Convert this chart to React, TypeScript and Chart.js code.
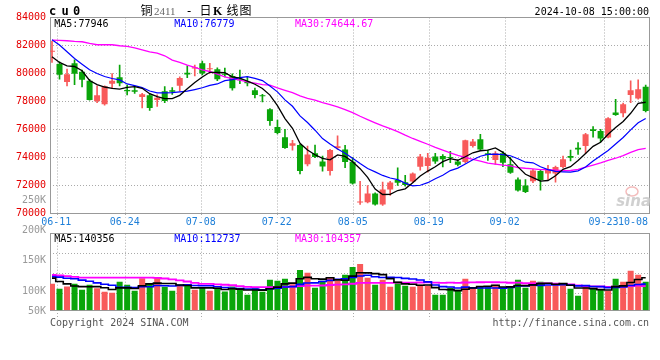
import React, { useEffect, useRef } from 'react';
import { Chart, registerables } from 'chart.js';

Chart.register(...registerables);

// ---------- data ----------
const days = [
  '06-07', '06-11', '06-12', '06-13', '06-14', '06-17', '06-18', '06-19', '06-20', '06-21',
  '06-24', '06-25', '06-26', '06-27', '06-28', '07-01', '07-02', '07-03', '07-04', '07-05',
  '07-08', '07-09', '07-10', '07-11', '07-12', '07-15', '07-16', '07-17', '07-18', '07-19',
  '07-22', '07-23', '07-24', '07-25', '07-26', '07-29', '07-30', '07-31', '08-01', '08-02',
  '08-05', '08-06', '08-07', '08-08', '08-09', '08-12', '08-13', '08-14', '08-15', '08-16',
  '08-19', '08-20', '08-21', '08-22', '08-23', '08-26', '08-27', '08-28', '08-29', '08-30',
  '09-02', '09-03', '09-04', '09-05', '09-06', '09-09', '09-10', '09-11', '09-12', '09-13',
  '09-18', '09-19', '09-20', '09-23', '09-24', '09-25', '09-26', '09-27', '09-30', '10-08',
];
const dateTicks = ['06-11', '06-24', '07-08', '07-22', '08-05', '08-19', '09-02', '09-23', '10-08'];
const priceTickStep = 2000;
const priceMin = 70000;
const priceMax = 84000;
const volTickLabels = ['250K', '200K', '150K', '100K', '50K'];

const open = [
  81550, 80670, 79400, 80740, 80120, 79480, 78020, 77800, 79260, 79740,
  78830, 78810, 78330, 78450, 78110, 78740, 78810, 79120, 80050, 80360,
  80740, 80310, 80310, 80000, 79830, 79590, 79430, 78810, 78450, 77450,
  76180, 75440, 74840, 74890, 73510, 74300, 73720, 73030, 74680, 74580,
  73700, 70780, 70810, 71430, 70640, 71720, 72390, 72240, 72290, 73340,
  73390, 74080, 74100, 74030, 73720, 73680, 74820, 75300, 74300, 73820,
  74300, 73510, 72430, 72000, 72310, 73030, 72860, 72860, 73320, 74100,
  74700, 74820, 76010, 75890, 75420, 77210, 77160, 78470, 78210, 79050,
];
const close = [
  81600, 79910, 79950, 79980, 79550, 78110, 78450, 79090, 79480, 79310,
  78740, 78690, 78520, 77540, 78260, 78040, 78690, 79670, 79930, 80450,
  80000, 80380, 79590, 79910, 78950, 79520, 79310, 78470, 78380, 76610,
  75750, 74680, 75010, 73030, 74220, 74030, 73360, 74530, 74800, 73680,
  72150, 70840, 71430, 70640, 71720, 72220, 72200, 72030, 72860, 74080,
  73990, 73720, 73870, 73960, 73480, 75230, 75150, 74580, 74180, 74300,
  73630, 72910, 71650, 71530, 73080, 72390, 73150, 73320, 73870, 73990,
  74580, 75660, 75890, 75350, 76800, 77040, 77800, 78810, 78880, 77330,
];
const high = [
  82300, 80840, 80310, 80980, 80240, 79590, 79120, 79120, 80000, 80600,
  79170, 79070, 78590, 78540, 78470, 79070, 79000, 79760, 80550, 80600,
  80880, 80720, 80410, 80380, 79980, 80240, 79760, 78950, 78520, 77490,
  76680, 76010, 75230, 74940, 74820, 74890, 74100, 74580, 75540, 74870,
  73990, 72290, 72000, 71480, 72240, 72290, 73270, 72720, 72910, 74220,
  74300, 74300, 74200, 74440, 73820, 75250, 75300, 75660, 74530, 74420,
  74420, 74010, 72550, 72430, 73150, 73150, 73440, 73390, 74100, 74530,
  75060, 75730, 76210, 76010, 76850, 78160, 77880, 79480, 79550, 79170,
];
const low = [
  80790, 79590, 79120, 79210, 79050, 78090, 77920, 77730, 78970, 79120,
  78470, 78570, 77540, 77370, 77640, 77920, 78500, 78760, 79710, 79830,
  79900, 80020, 79480, 79760, 78810, 79280, 79120, 78260, 77970, 76300,
  75680, 74650, 74530, 72820, 73390, 73990, 73030, 72740, 74580, 73270,
  72100, 70640, 70760, 70600, 70570, 71290, 72000, 71960, 72200, 73100,
  72960, 73580, 73320, 73630, 73390, 73600, 74730, 74510, 73790, 73510,
  73340, 72860, 71600, 71480, 72200, 71670, 72430, 72240, 73250, 73750,
  74220, 74300, 75460, 75110, 75400, 77000, 76900, 77920, 78160, 77260,
];
const ma5 = [
  81190, 80790, 80550, 80500, 80196, 79499, 79207, 79036, 78935, 78888,
  79013, 79061, 78947, 78560, 78350, 78210, 78210, 78439, 78917, 79356,
  79747, 80086, 80071, 80067, 79766, 79671, 79456, 79232, 78926, 78458,
  77704, 76777, 76085, 75016, 74539, 74195, 73932, 73837, 74190, 74080,
  73703, 73202, 72581, 71751, 71359, 71373, 71641, 71760, 72204, 72677,
  73030, 73336, 73703, 73923, 73804, 74052, 74338, 74481, 74524, 74687,
  74367, 73918, 73331, 72801, 72557, 72309, 72357, 72691, 73159, 73340,
  73780, 74281, 74796, 75092, 75655, 76147, 76577, 77159, 77866, 77946,
];
const ma10 = [
  82411, 82029, 81551, 81074, 80668, 80263, 80000, 79785, 79642, 79542,
  79256, 79134, 78991, 78748, 78619, 78612, 78636, 78693, 78738, 78853,
  78979, 79148, 79255, 79492, 79561, 79709, 79771, 79652, 79496, 79112,
  78687, 78117, 77658, 76971, 76498, 75949, 75355, 74961, 74603, 74310,
  73949, 73567, 73209, 72970, 72720, 72538, 72421, 72171, 71978, 72018,
  72202, 72488, 72732, 73064, 73240, 73541, 73837, 74092, 74224, 74245,
  74209, 74128, 73906, 73663, 73622, 73338, 73138, 73011, 72980, 72949,
  73044, 73319, 73744, 74126, 74498, 74963, 75429, 75978, 76479, 76779,
];
const ma30 = [
  82387, 82363, 82339, 82292, 82268, 82148, 82053, 82053, 82053, 81981,
  81933, 81838, 81695, 81552, 81456, 81265, 80955, 80788, 80597, 80430,
  80263, 80143, 79952, 79761, 79642, 79523, 79403, 79308, 79212, 79169,
  78974, 78800, 78635, 78403, 78226, 78090, 77921, 77769, 77613, 77425,
  77205, 76944, 76708, 76478, 76260, 76066, 75849, 75594, 75359, 75147,
  74946, 74724, 74533, 74335, 74153, 74010, 73871, 73741, 73601, 73524,
  73453, 73395, 73282, 73232, 73194, 73139, 73132, 73091, 73060, 73071,
  73152, 73312, 73461, 73617, 73787, 73947, 74134, 74360, 74561, 74644.67,
];
const volume = [
  113950, 92450, 102480, 113950, 88150, 109650, 95310, 79550, 75250, 122550,
  109650, 83850, 138310, 113950, 139750, 101050, 83850, 105350, 105350, 88150,
  99610, 83850, 96750, 80990, 102480, 91020, 66650, 95310, 79550, 131150,
  126850, 135450, 112520, 174150, 161250, 96750, 126850, 142620, 126850, 152650,
  187050, 199950, 139750, 109650, 131150, 101050, 122550, 105350, 101050, 109650,
  105350, 66650, 66650, 96750, 88150, 135450, 92450, 101050, 101050, 109650,
  96750, 96750, 131150, 96750, 126850, 122550, 105350, 109650, 109650, 92450,
  62350, 105350, 96750, 88150, 83850, 135450, 122550, 169850, 152650, 122550,
];
const volMa5 = [
  138500, 124000, 114000, 105000, 102196, 101336, 101908, 97322, 89582, 96462,
  96462, 94170, 105922, 113662, 117102, 115382, 115382, 108790, 107070, 96750,
  96462, 96462, 94742, 89870, 92736, 91018, 87578, 87290, 87002, 92736,
  99902, 113662, 117104, 136024, 142044, 136024, 134304, 140324, 130864, 129144,
  147204, 161824, 161250, 157810, 153510, 136310, 120830, 113950, 112230, 107930,
  108790, 97610, 89870, 89010, 84710, 90730, 95890, 102770, 103630, 107930,
  100190, 101050, 107070, 106210, 109650, 114810, 116530, 112230, 114810, 107930,
  95890, 95890, 93310, 89010, 87290, 101910, 105350, 119970, 132870, 140356,
];
const volMa10 = [
  145000, 143000, 138000, 136000, 130000, 125000, 118000, 112000, 108000, 99329,
  98899, 98039, 101622, 101622, 106782, 105922, 104776, 107356, 110366, 106926,
  105922, 105922, 101766, 98470, 94743, 93740, 92020, 91016, 88436, 92736,
  95460, 100620, 102197, 111513, 117390, 117963, 123983, 128714, 133444, 135594,
  141614, 148064, 150787, 144337, 141327, 141757, 141327, 137600, 135020, 130720,
  122550, 109220, 101910, 100620, 96320, 99760, 96750, 96320, 96320, 96320,
  95460, 98470, 104920, 104920, 108790, 107500, 108790, 109650, 110510, 108790,
  105350, 106210, 102770, 101910, 97610, 98900, 100620, 106640, 110940, 112737,
];
const volMa30 = [
  152000, 150000, 147000, 144000, 141000, 141000, 141000, 141000, 141000, 141000,
  141000, 141000, 141000, 141000, 140000, 137000, 133000, 129000, 124000, 118000,
  114000, 114000, 112000, 110000, 108000, 104000, 101000, 100000, 99700, 99664,
  100094, 101527, 101862, 103868, 106305, 105875, 106926, 109029, 110749, 111752,
  114332, 118202, 118250, 118107, 117820, 117820, 119110, 119110, 118967, 119683,
  119875, 119301, 118298, 118823, 118346, 119827, 120687, 120878, 121595, 120878,
  119875, 118585, 119206, 116626, 115479, 116339, 115622, 114523, 113950, 111943,
  107787, 104633, 103200, 102483, 100907, 102053, 102053, 104203, 105923, 104357,
];

// ---------- style ----------
const RED = '#f85a5a';
const GREEN = '#0aa50a';
const MONO = '"DejaVu Sans Mono", monospace';
const GRID = '#aaaaaa';
const FRAME = '#999999';
const DATE_COLOR = '#1e7fd8';
const PRICE_LABEL = '#e60000';
const VOL_LABEL = '#999999';

const X_MIN = -0.266;
const X_MAX = 79.44;
const XD_MIN = 0.039;
const XD_MAX = 78.86;

const candleColors = close.map((c, i) => (c >= open[i] ? RED : GREEN));
const last = days.length - 1;

const dateTickBuilder = (s: any) => {
  s.ticks = dateTicks
    .map((d) => days.indexOf(d))
    .filter((v) => v >= s.min && v <= s.max)
    .map((v) => ({ value: v }));
};

const framePlugin = {
  id: 'frame',
  beforeDatasetsDraw(chart: any) {
    const { ctx, chartArea } = chart;
    const l = Math.floor(chartArea.left);
    const t = Math.floor(chartArea.top);
    const r = Math.floor(chartArea.right);
    const b = Math.floor(chartArea.bottom);
    ctx.save();
    ctx.strokeStyle = FRAME;
    ctx.lineWidth = 1;
    ctx.setLineDash([]);
    ctx.strokeRect(l + 0.5, t + 0.5, r - l, b - t);
    ctx.restore();
  },
};

const watermarkPlugin = {
  id: 'watermark',
  beforeDatasetsDraw(chart: any) {
    const { ctx, chartArea } = chart;
    ctx.save();
    ctx.strokeStyle = 'rgba(240,160,160,0.7)';
    ctx.lineWidth = 1.5;
    ctx.beginPath();
    ctx.ellipse(chartArea.right - 17, chartArea.bottom - 22, 6, 4.5, 0, 0, Math.PI * 2);
    ctx.stroke();
    ctx.font = `italic bold 15px "DejaVu Sans", sans-serif`;
    ctx.fillStyle = 'rgba(200,200,200,0.85)';
    ctx.textAlign = 'right';
    ctx.textBaseline = 'alphabetic';
    ctx.fillText('sina', chartArea.right + 2, chartArea.bottom - 8);
    ctx.restore();
  },
};

const priceTextPlugin = {
  id: 'priceText',
  afterDraw(chart: any) {
    const { ctx, chartArea } = chart;
    const xd = chart.scales.xd;
    ctx.save();
    ctx.textBaseline = 'alphabetic';
    // header
    ctx.fillStyle = '#000';
    ctx.textAlign = 'left';
    ctx.font = `bold 12px ${MONO}`;
    ctx.fillText('c', 49, 15);
    ctx.fillText('u', 61.5, 15);
    ctx.fillText('0', 73, 15);
    ctx.font = '12px "Noto Sans CJK SC", sans-serif';
    ctx.fillText('铜', 140.5, 15);
    ctx.font = '11px "Liberation Serif", serif';
    ctx.fillStyle = '#666';
    ctx.fillText('2411', 154, 15);
    ctx.fillStyle = '#000';
    ctx.font = `12px ${MONO}`;
    ctx.fillText('-', 185.5, 15);
    ctx.font = '12px "Noto Sans CJK SC", sans-serif';
    ctx.fillText('日', 199.5, 15);
    ctx.font = 'bold 12px "Liberation Serif", serif';
    ctx.fillText('K', 213, 15);
    ctx.font = '12px "Noto Sans CJK SC", sans-serif';
    ctx.fillText('线', 226.5, 15);
    ctx.fillText('图', 239.5, 15);
    ctx.font = `10px ${MONO}`;
    ctx.textAlign = 'right';
    ctx.fillText('2024-10-08 15:00:00', chartArea.right, 15);
    // MA legend
    ctx.textAlign = 'left';
    const ly = chartArea.top + 9;
    ctx.fillStyle = '#000';
    ctx.fillText(`MA5:${Math.round(ma5[last])}`, chartArea.left + 4.3, ly);
    ctx.fillStyle = '#0000ff';
    ctx.fillText(`MA10:${Math.round(ma10[last])}`, chartArea.left + 124.3, ly);
    ctx.fillStyle = '#ff00ff';
    ctx.fillText(`MA30:${ma30[last].toFixed(2)}`, chartArea.left + 245, ly);
    // date labels
    ctx.fillStyle = DATE_COLOR;
    dateTicks.forEach((d) => {
      const idx = days.indexOf(d);
      const cx = xd.getPixelForValue(idx) - 1;
      const w = ctx.measureText(d).width;
      let x0 = cx - w / 2;
      if (x0 + w > chartArea.right - 1) x0 = chartArea.right - 1 - w;
      ctx.fillText(d, x0, chartArea.bottom + 11.5);
    });
    ctx.restore();
  },
};

const volTextPlugin = {
  id: 'volText',
  afterDraw(chart: any) {
    const { ctx, chartArea } = chart;
    ctx.save();
    ctx.textBaseline = 'alphabetic';
    ctx.font = `10px ${MONO}`;
    // volume axis labels (as drawn by the original, offset from the frame top)
    const offs = [-30.4, -0.4, 29.6, 60.3, 80.6];
    ctx.fillStyle = VOL_LABEL;
    ctx.textAlign = 'right';
    volTickLabels.forEach((t, i) => ctx.fillText(t, chartArea.left - 4, chartArea.top + offs[i]));
    // legend
    ctx.textAlign = 'left';
    const ly = chartArea.top + 7.8;
    ctx.fillStyle = '#000';
    ctx.fillText(`MA5:${Math.round(volMa5[last])}`, chartArea.left + 4.3, ly);
    ctx.fillStyle = '#0000ff';
    ctx.fillText(`MA10:${Math.round(volMa10[last])}`, chartArea.left + 124.3, ly);
    ctx.fillStyle = '#ff00ff';
    ctx.fillText(`MA30:${Math.round(volMa30[last])}`, chartArea.left + 245, ly);
    // footer
    ctx.fillStyle = '#555';
    ctx.fillText('Copyright 2024 SINA.COM', chartArea.left, chartArea.bottom + 16);
    ctx.textAlign = 'right';
    ctx.fillText('http://finance.sina.com.cn', chartArea.right, chartArea.bottom + 16);
    ctx.restore();
  },
};

const lineDs = (label: string, values: number[], color: string, width: number, stepped: any = false) => ({
  type: 'line' as const,
  label,
  data: values.map((v, i) => ({ x: i, y: v })),
  borderColor: color,
  borderWidth: width,
  pointRadius: 0,
  tension: 0,
  stepped,
  order: 0,
  xAxisID: 'x',
  yAxisID: 'y',
});

export default function App() {
  const refA = useRef<HTMLCanvasElement>(null);
  const refB = useRef<HTMLCanvasElement>(null);

  useEffect(() => {
    const priceChart = new Chart(refA.current as HTMLCanvasElement, {
      type: 'line',
      data: {
        datasets: [
          lineDs('MA5', ma5, '#000000', 1.3),
          lineDs('MA10', ma10, '#0000ff', 1.2),
          lineDs('MA30', ma30, '#ff00ff', 1.3),
          {
            type: 'bar',
            label: 'wick',
            data: days.map((_, i) => ({ x: i, y: [low[i], high[i]] })),
            backgroundColor: candleColors,
            borderWidth: 0,
            grouped: false,
            barPercentage: 1,
            categoryPercentage: 1,
            maxBarThickness: 1,
            order: 2,
            xAxisID: 'x',
            yAxisID: 'y',
          } as any,
          {
            type: 'bar',
            label: 'body',
            data: days.map((_, i) => ({ x: i, y: [open[i], close[i]] })),
            backgroundColor: candleColors,
            borderWidth: 0,
            grouped: false,
            barPercentage: 0.8,
            categoryPercentage: 1,
            minBarLength: 1,
            order: 1,
            xAxisID: 'x',
            yAxisID: 'y',
          } as any,
        ],
      },
      options: {
        responsive: false,
        animation: false,
        devicePixelRatio: 1,
        events: [],
        layout: { padding: { top: 17.5, right: 11, left: 0, bottom: 0 } },
        plugins: { legend: { display: false }, tooltip: { enabled: false } },
        scales: {
          x: { type: 'linear', display: false, min: X_MIN, max: X_MAX, offset: false },
          xd: {
            type: 'linear',
            position: 'bottom',
            min: XD_MIN,
            max: XD_MAX,
            offset: false,
            afterBuildTicks: dateTickBuilder,
            afterFit: (s: any) => { s.height = 18.5; },
            ticks: { display: false },
            grid: { color: GRID, tickColor: GRID, tickLength: 4, tickBorderDash: [1, 2], offset: false, lineWidth: 1 },
            border: { display: false, dash: [1, 2] },
          },
          y: {
            type: 'linear',
            position: 'left',
            min: priceMin,
            max: priceMax,
            afterFit: (s: any) => { s.width = 50; },
            ticks: {
              stepSize: priceTickStep,
              color: PRICE_LABEL,
              padding: 4,
              font: { family: MONO, size: 10 },
              callback: (v: any) => String(v),
            },
            grid: { color: GRID, drawTicks: false, lineWidth: 1 },
            border: { display: false, dash: [1, 2] },
          },
        } as any,
      },
      plugins: [framePlugin, watermarkPlugin, priceTextPlugin],
    } as any);

    const volChart = new Chart(refB.current as HTMLCanvasElement, {
      type: 'line',
      data: {
        datasets: [
          lineDs('VMA5', volMa5, '#000000', 1.6, 'middle'),
          lineDs('VMA10', volMa10, '#0000ff', 1.6, 'middle'),
          lineDs('VMA30', volMa30, '#ff00ff', 1.8, 'middle'),
          {
            type: 'bar',
            label: 'volume',
            data: days.map((_, i) => ({ x: i, y: volume[i] })),
            backgroundColor: candleColors,
            borderWidth: 0,
            grouped: false,
            barPercentage: 0.8,
            categoryPercentage: 1,
            order: 1,
            xAxisID: 'x',
            yAxisID: 'y',
          } as any,
        ],
      },
      options: {
        responsive: false,
        animation: false,
        devicePixelRatio: 1,
        events: [],
        layout: { padding: { top: 43.7, right: 11, left: 50, bottom: 49.7 } },
        plugins: { legend: { display: false }, tooltip: { enabled: false } },
        scales: {
          x: { type: 'linear', display: false, min: X_MIN, max: X_MAX, offset: false },
          xd: {
            type: 'linear',
            position: 'bottom',
            min: XD_MIN,
            max: XD_MAX,
            offset: false,
            afterBuildTicks: dateTickBuilder,
            afterFit: (s: any) => { s.height = 0; },
            ticks: { display: false },
            grid: { color: GRID, tickColor: GRID, tickLength: 9, tickBorderDash: [1, 2], offset: false, lineWidth: 1 },
            border: { display: false, dash: [1, 2] },
          },
          y: { type: 'linear', display: false, min: 0, max: 330000 },
          yg: {
            type: 'linear',
            position: 'left',
            min: 0,
            max: 3.84,
            reverse: true,
            afterFit: (s: any) => { s.width = 0; },
            ticks: { display: false, stepSize: 1 },
            grid: { color: GRID, drawTicks: false, lineWidth: 1 },
            border: { display: false, dash: [1, 2] },
          },
        } as any,
      },
      plugins: [framePlugin, volTextPlugin],
    } as any);

    return () => {
      priceChart.destroy();
      volChart.destroy();
    };
  }, []);

  return (
    <div style={{ position: 'absolute', left: 0, top: 0, width: 660, height: 360, background: '#fff', overflow: 'hidden' }}>
      <canvas ref={refB} width={660} height={170} style={{ position: 'absolute', left: 0, top: 190, width: 660, height: 170 }} />
      <canvas ref={refA} width={660} height={232} style={{ position: 'absolute', left: 0, top: 0, width: 660, height: 232 }} />
    </div>
  );
}
